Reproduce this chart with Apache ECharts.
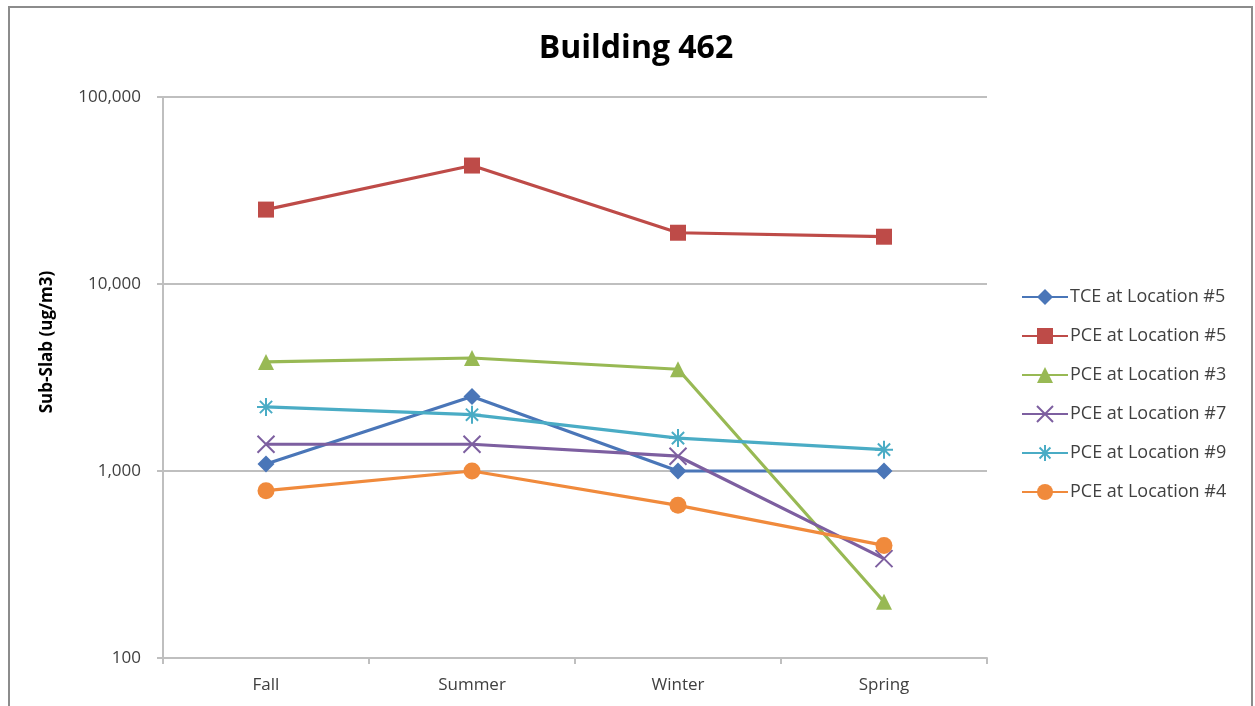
<!DOCTYPE html>
<html>
<head>
<meta charset="utf-8">
<script src="https://cdn.jsdelivr.net/npm/echarts@6/dist/echarts.min.js"></script>
<style>
  html, body { margin: 0; padding: 0; background: #fff; }
  #chart { width: 1255px; height: 706px; }
</style>
</head>
<body>
<div id="chart"></div>
<script>
// data
var seasons = ['Fall', 'Summer', 'Winter', 'Spring']
var tce5 = [1090, 2500, 1000, 1000]
var pce5 = [25000, 43000, 18800, 17900]
var pce3 = [3830, 4020, 3500, 200]
var pce7 = [1390, 1390, 1200, 340]
var pce9 = [2200, 2000, 1500, 1300]
var pce4 = [785, 1000, 655, 400]

var xMark = 'path://M0,0L10,10M10,0L0,10'
var starMark = 'path://M5,0L5,10M0,5L10,5M1.6,1.6L8.4,8.4M8.4,1.6L1.6,8.4'

function makeSeries (name, data, color, symbol, size, stroke) {
  return {
    name: name,
    type: 'line',
    data: data,
    symbol: symbol,
    symbolSize: size,
    showAllSymbol: true,
    lineStyle: { color: color, width: 3.2 },
    itemStyle: stroke
      ? { color: 'rgba(0,0,0,0)', borderColor: color, borderWidth: 2 }
      : { color: color, borderWidth: 0 },
    emphasis: { disabled: true }
  }
}

var chart = echarts.init(document.getElementById('chart'))
chart.setOption({
  animation: false,
  backgroundColor: '#fff',
  title: {
    text: 'Building 462',
    left: 631,
    textAlign: 'center',
    top: 28,
    textStyle: { fontFamily: 'Open Sans', fontWeight: 'bold', fontSize: 32, color: '#000' }
  },
  graphic: [{
    type: 'rect',
    shape: { x: 9, y: 7, width: 1243, height: 720 },
    style: { fill: 'none', stroke: '#8c8c8c', lineWidth: 2 },
    silent: true
  }, {
    type: 'text',
    x: 47,
    y: 342,
    rotation: Math.PI / 2,
    style: {
      text: 'Sub-Slab (ug/m3)',
      fill: '#000',
      font: 'bold 17px "Open Sans"',
      align: 'center',
      verticalAlign: 'middle'
    },
    silent: true
  }],
  legend: {
    orient: 'vertical',
    left: 1016,
    top: 283,
    itemGap: 21,
    itemWidth: 46,
    itemHeight: 20,
    textStyle: { fontFamily: 'Open Sans', fontSize: 18, color: '#404040', padding: [0, 0, 0, -3] },
    data: ['TCE at Location #5', 'PCE at Location #5', 'PCE at Location #3',
      'PCE at Location #7', 'PCE at Location #9', 'PCE at Location #4']
  },
  grid: { left: 163, right: 268, top: 97, bottom: 48, containLabel: false },
  xAxis: {
    type: 'category',
    data: seasons,
    boundaryGap: true,
    axisLine: { lineStyle: { color: '#bfbfbf', width: 2 } },
    axisTick: { show: true, length: 6, lineStyle: { color: '#bfbfbf', width: 2 } },
    axisLabel: { fontFamily: 'Open Sans', fontSize: 17, color: '#404040', margin: 19 }
  },
  yAxis: {
    type: 'log',
    logBase: 10,
    min: 100,
    max: 100000,
    axisLine: { show: true, lineStyle: { color: '#bfbfbf', width: 2 } },
    axisTick: { show: true, inside: false, length: 6, lineStyle: { color: '#bfbfbf', width: 2 } },
    splitLine: { show: true, lineStyle: { color: '#bfbfbf', width: 2 } },
    minorTick: { show: false },
    axisLabel: {
      fontFamily: 'Open Sans', fontSize: 17, color: '#404040', margin: 22,
      formatter: function (v) { return Math.round(v).toLocaleString('en-US') }
    }
  },
  series: [
    makeSeries('TCE at Location #5', tce5, '#4a76b8', 'diamond', 17, false),
    makeSeries('PCE at Location #5', pce5, '#be4b48', 'rect', 16, false),
    makeSeries('PCE at Location #3', pce3, '#98b954', 'triangle', 16, false),
    makeSeries('PCE at Location #7', pce7, '#7d5fa0', xMark, 17, true),
    makeSeries('PCE at Location #9', pce9, '#4aacc5', starMark, 18, true),
    makeSeries('PCE at Location #4', pce4, '#f08a3c', 'circle', 17, false)
  ]
})
</script>
</body>
</html>
